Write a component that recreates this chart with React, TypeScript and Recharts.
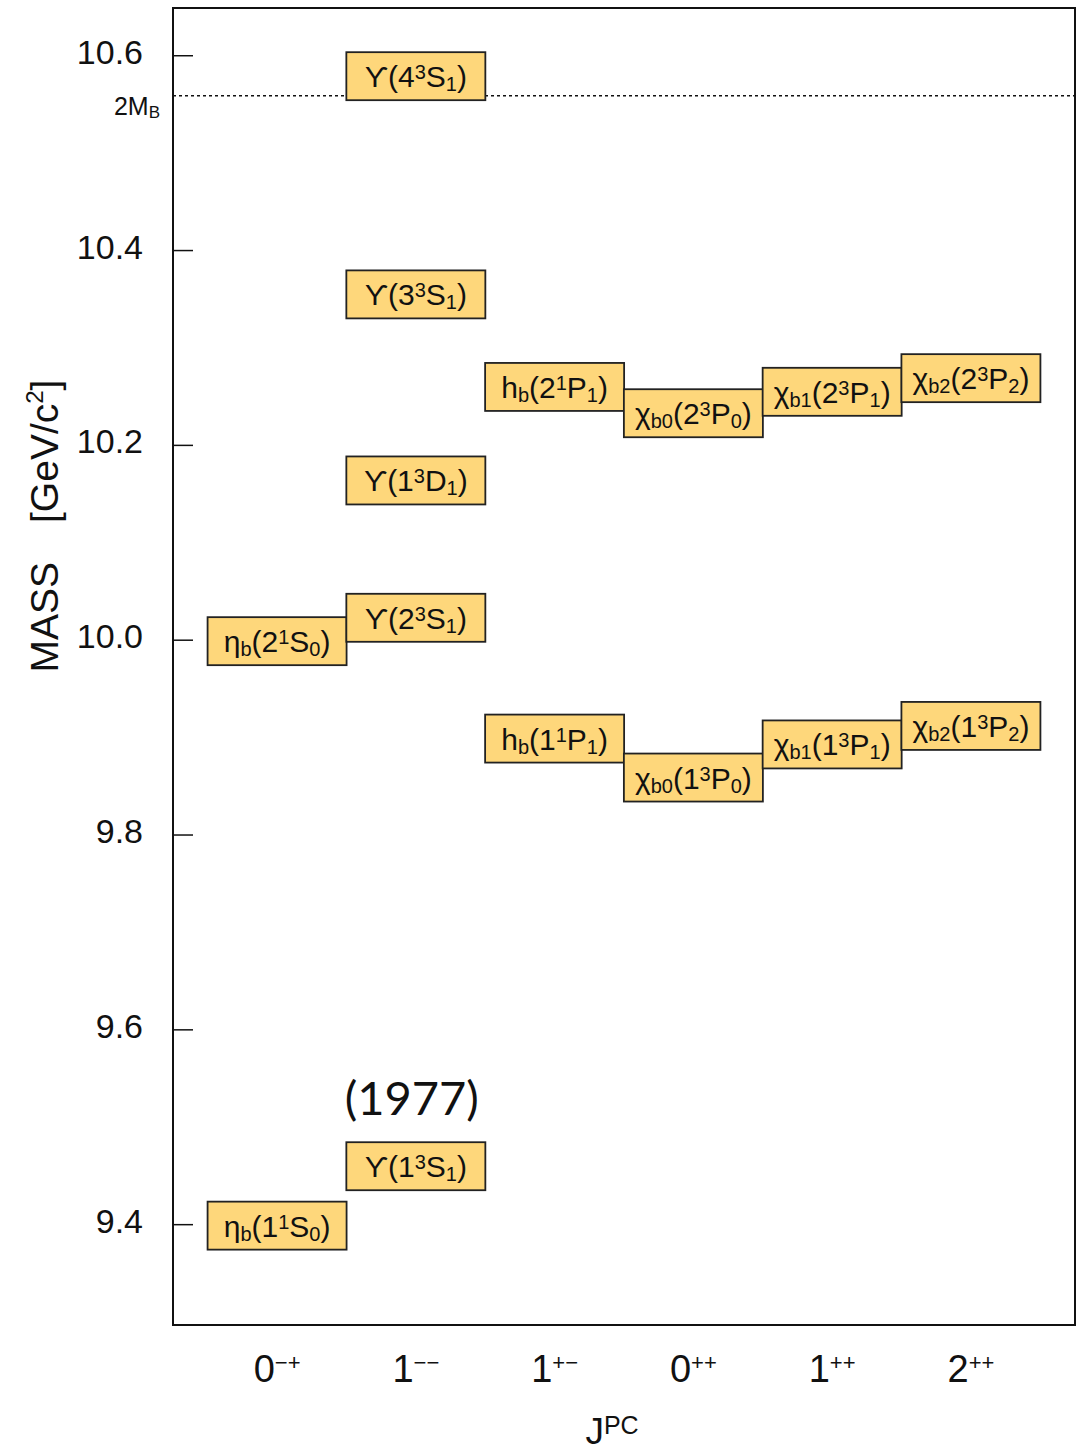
import { ScatterChart, Scatter, XAxis, YAxis, ReferenceLine, ReferenceArea, Label } from 'recharts';

// J^PC columns
const jpcJ = ['0', '1', '1', '0', '1', '2'];
const jpcPC = ['−+', '−−', '+−', '++', '++', '++'];

// bottomonium states (^ = superscript, _ = subscript)
const stateLabels = [
  'η_b(1^1S_0)', 'ϒ(1^3S_1)', 'η_b(2^1S_0)', 'ϒ(2^3S_1)', 'ϒ(1^3D_1)', 'ϒ(3^3S_1)', 'ϒ(4^3S_1)',
  'h_b(1^1P_1)', 'χ_{b0}(1^3P_0)', 'χ_{b1}(1^3P_1)', 'χ_{b2}(1^3P_2)',
  'h_b(2^1P_1)', 'χ_{b0}(2^3P_0)', 'χ_{b1}(2^3P_1)', 'χ_{b2}(2^3P_2)',
];
const stateColumns = [0, 1, 0, 1, 1, 1, 1, 2, 3, 4, 5, 2, 3, 4, 5];
const stateMasses = [
  9.399, 9.460, 9.999, 10.023, 10.164, 10.355, 10.579,
  9.899, 9.859, 9.893, 9.912,
  10.260, 10.233, 10.255, 10.269,
];
const stateNotes = ['', '(1977)', '', '', '', '', '', '', '', '', '', '', '', '', ''];

const massTicks = [9.4, 9.6, 9.8, 10.0, 10.2, 10.4, 10.6];
const twoMB = 10.559;

const FONT = "'Liberation Sans', Helvetica, Arial, sans-serif";
const BOX_W = 139;
const BOX_H = 48;

type Seg = { t: string; k: 'n' | 'sup' | 'sub' };

function parseLabel(s: string): Seg[] {
  const out: Seg[] = [];
  let buf = '';
  let i = 0;
  while (i < s.length) {
    const c = s[i];
    if (c === '^' || c === '_') {
      if (buf) { out.push({ t: buf, k: 'n' }); buf = ''; }
      let t;
      if (s[i + 1] === '{') {
        const e = s.indexOf('}', i);
        t = s.slice(i + 2, e);
        i = e + 1;
      } else {
        t = s[i + 1];
        i += 2;
      }
      out.push({ t, k: c === '^' ? 'sup' : 'sub' });
    } else {
      buf += c;
      i++;
    }
  }
  if (buf) out.push({ t: buf, k: 'n' });
  return out;
}

function spans(segs: Seg[], size: number, small: number, up: number, down: number) {
  let cur = 0;
  return segs.map((s, i) => {
    const target = s.k === 'sup' ? -up : s.k === 'sub' ? down : 0;
    const dy = target - cur;
    cur = target;
    return (
      <tspan key={i} dy={dy} fontSize={s.k === 'n' ? size : small}>
        {s.t}
      </tspan>
    );
  });
}

const data = stateLabels.map((label, i) => ({
  x: stateColumns[i],
  y: stateMasses[i],
  label,
  note: stateNotes[i],
}));

const StateBox = (props: any) => {
  const { cx, cy, payload } = props;
  if (cx == null || cy == null) return null;
  return (
    <g>
      <rect x={cx - BOX_W / 2} y={cy - BOX_H / 2} width={BOX_W} height={BOX_H} fill="#FED77B" stroke="#222" strokeWidth={1.8} />
      <text x={cx} y={cy + 11} textAnchor="middle" fontFamily={FONT} fontSize={30} fill="#111">
        {spans(parseLabel(payload.label), 30, 20, 8, 4)}
      </text>
      {payload.note ? (
        <text x={cx - 4} y={cy - 51} textAnchor="middle" fontFamily="Lato, 'Open Sans', sans-serif" fontSize={47} fill="#111">
          {payload.note}
        </text>
      ) : null}
    </g>
  );
};

const MassTick = (props: any) => {
  const { x, y, payload } = props;
  return (
    <g>
      <text x={x} y={y} dy={8} textAnchor="end" fontFamily={FONT} fontSize={34} fill="#111">
        {Number(payload.value).toFixed(1)}
      </text>
      <line x1={x + 30} x2={x + 50} y1={y} y2={y} stroke="#111" strokeWidth={1.5} />
    </g>
  );
};

const JpcTick = (props: any) => {
  const { x, y, payload } = props;
  const i = payload.value;
  return (
    <text x={x} y={y + 57} textAnchor="middle" fontFamily={FONT} fill="#111">
      <tspan fontSize={38}>{jpcJ[i]}</tspan>
      <tspan fontSize={22} dy={-12}>{jpcPC[i]}</tspan>
    </text>
  );
};

const XTitle = (props: any) => {
  const vb = props.viewBox;
  return (
    <text x={vb.x + vb.width / 2 - 12} y={vb.y + 119} textAnchor="middle" fontFamily={FONT} fill="#111">
      <tspan fontSize={37}>J</tspan>
      <tspan fontSize={25} dy={-10}>PC</tspan>
    </text>
  );
};

const YTitle = (props: any) => {
  const vb = props.viewBox;
  const x = 58;
  const y = vb.y + vb.height / 2 + 6;
  return (
    <text x={x} y={y} transform={`rotate(-90, ${x}, ${y})`} textAnchor="start" fontFamily={FONT} fontSize={39} fill="#111">
      <tspan>MASS</tspan>
      <tspan dx={39}>[GeV/c</tspan>
      <tspan fontSize={24} dy={-15}>2</tspan>
      <tspan dy={15}>]</tspan>
    </text>
  );
};

const MBLabel = (props: any) => {
  const vb = props.viewBox;
  return (
    <text x={vb.x - 13} y={vb.y + 19} textAnchor="end" fontFamily={FONT} fill="#111">
      <tspan fontSize={25}>2M</tspan>
      <tspan fontSize={17} dy={3}>B</tspan>
    </text>
  );
};

export default function App() {
  return (
    <div style={{ position: 'absolute', left: 0, top: 0, width: 1085, height: 1452, background: '#fff' }}>
      <ScatterChart width={1085} height={1452} margin={{ top: 8, right: 10, bottom: 0, left: 0 }}>
        <XAxis
          type="number"
          dataKey="x"
          domain={[-0.75, 5.75]}
          ticks={[0, 1, 2, 3, 4, 5]}
          interval={0}
          axisLine={false}
          tickLine={false}
          tickSize={0}
          tickMargin={0}
          height={127}
          tick={<JpcTick />}
        >
          <Label content={<XTitle />} />
        </XAxis>
        <YAxis
          type="number"
          dataKey="y"
          domain={[9.297, 10.649]}
          ticks={massTicks}
          interval={0}
          axisLine={false}
          tickLine={false}
          tickSize={0}
          tickMargin={30}
          width={173}
          tick={<MassTick />}
        >
          <Label content={<YTitle />} />
        </YAxis>
        <ReferenceArea x1={-0.75} x2={5.75} y1={9.297} y2={10.649} fill="none" stroke="#111" strokeWidth={2} zIndex={50} />
        <ReferenceLine y={twoMB} stroke="#111" strokeWidth={1.5} strokeDasharray="3 3" label={<MBLabel />} zIndex={50} />
        <Scatter data={data} shape={<StateBox />} isAnimationActive={false} />
      </ScatterChart>
    </div>
  );
}
